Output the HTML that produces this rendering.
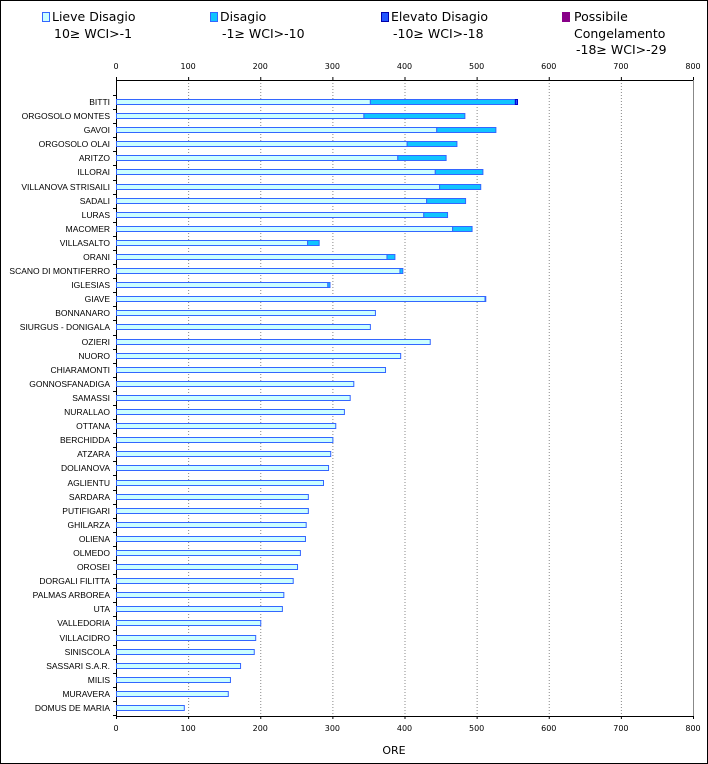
<!DOCTYPE html>
<html><head><meta charset="utf-8"><style>
body{margin:0;background:#fff;}
svg{display:block;font-family:"DejaVu Sans","Liberation Sans",sans-serif;}
</style></head><body>
<svg id="chart" width="708" height="764" xmlns="http://www.w3.org/2000/svg">
<rect x="0.5" y="0.5" width="707" height="763" fill="#fff" stroke="#000"/>
<g font-size="12.5" fill="#000">
 <g><rect x="42.5" y="12.5" width="7" height="9" fill="#ccffff" stroke="#3366ff"/><text x="52" y="21">Lieve Disagio</text><text x="54" y="38">10≥ WCI&gt;-1</text></g>
 <g><rect x="210.5" y="12.5" width="7" height="9" fill="#11c4ff" stroke="#3366ff"/><text x="220" y="21">Disagio</text><text x="222" y="38">-1≥ WCI&gt;-10</text></g>
 <g><rect x="381.5" y="12.5" width="7" height="9" fill="#2255ff" stroke="#0000aa"/><text x="391" y="21">Elevato Disagio</text><text x="393" y="38">-10≥ WCI&gt;-18</text></g>
 <g><rect x="562" y="12" width="8" height="10" fill="#880088"/><text x="574" y="21">Possibile</text><text x="574" y="38">Congelamento</text><text x="576" y="54">-18≥ WCI&gt;-29</text></g>
</g>
<g id="grid"></g><g id="axes"></g><g id="bars"></g><g id="labels"></g>
<text x="394" y="754" font-size="11" text-anchor="middle">ORE</text>
</svg>
<script>
const categories=["BITTI","ORGOSOLO MONTES","GAVOI","ORGOSOLO OLAI","ARITZO","ILLORAI","VILLANOVA STRISAILI","SADALI","LURAS","MACOMER","VILLASALTO","ORANI","SCANO DI MONTIFERRO","IGLESIAS","GIAVE","BONNANARO","SIURGUS - DONIGALA","OZIERI","NUORO","CHIARAMONTI","GONNOSFANADIGA","SAMASSI","NURALLAO","OTTANA","BERCHIDDA","ATZARA","DOLIANOVA","AGLIENTU","SARDARA","PUTIFIGARI","GHILARZA","OLIENA","OLMEDO","OROSEI","DORGALI FILITTA","PALMAS ARBOREA","UTA","VALLEDORIA","VILLACIDRO","SINISCOLA","SASSARI S.A.R.","MILIS","MURAVERA","DOMUS DE MARIA"];
const lieve=[352,343,444,403,390,442,448,430,426,466,265,375,393,293,511,359,352,435,394,373,329,324,316,304,300,297,294,287,266,266,263,262,255,251,245,232,230,200,193,191,172,158,155,94];
const disagio=[201,140,82,69,67,66,57,54,33,27,16,11,4,3,1,0,0,0,0,0,0,0,0,0,0,0,0,0,0,0,0,0,0,0,0,0,0,0,0,0,0,0,0,0];
const elevato=[3,0,0,0,0,0,0,0,0,0,0,0,0,0,0,0,0,0,0,0,0,0,0,0,0,0,0,0,0,0,0,0,0,0,0,0,0,0,0,0,0,0,0,0];
const ticks=[0,100,200,300,400,500,600,700,800];
const NS="http://www.w3.org/2000/svg";
const X0=116,X1=693,Y0=80,Y1=716,MAX=800;
const xs=v=>X0+v*(X1-X0)/MAX;
const rowY=i=>102+i*(708-102)/(categories.length-1);
function mk(tag,attrs,parent){const e=document.createElementNS(NS,tag);for(const k in attrs)e.setAttribute(k,attrs[k]);document.getElementById(parent).appendChild(e);return e;}
ticks.forEach(t=>{
 if(t>0&&t<MAX){const g=mk('line',{x1:xs(t)+.5,x2:xs(t)+.5,y1:Y0,y2:Y1,stroke:'#888','stroke-dasharray':'1,2'},'grid');
 
 }
 ['top','bottom'].forEach(p=>{
  const y=p==='top'?69:731;
  const tx=mk('text',{x:xs(t),y:y,'font-size':8,'text-anchor':'middle'},'axes');tx.textContent=t;
  
  
  const tk=mk('line',{x1:xs(t)+.5,x2:xs(t)+.5,y1:p==='top'?Y0-3:Y1,y2:p==='top'?Y0:Y1+3,stroke:'#000'},'axes');
  
  
 });
});
[['top',Y0],['bottom',Y1]].forEach(([n,y])=>{const l=mk('line',{x1:X0,x2:X1+1,y1:y+.5,y2:y+.5,stroke:'#000'},'axes');
 
 });
const la=mk('line',{x1:X0+.5,x2:X0+.5,y1:Y0,y2:Y1,stroke:'#000'},'axes');


const ra=mk('line',{x1:X1+.5,x2:X1+.5,y1:Y0,y2:Y1,stroke:'#888'},'axes');


const step=(708-102)/(categories.length-1);
for(let i=0;i<=categories.length;i++){const y=Math.round(102-step/2+i*step)+.5;
 const t=mk('line',{x1:X0-3,x2:X0,y1:y,y2:y,stroke:'#000'},'axes');
 
 }
categories.forEach((c,i)=>{
 const y=Math.round(rowY(i));
 const lb=mk('text',{x:110,y:y+3,'font-size':8.5,'font-family':'"Liberation Sans",sans-serif','text-anchor':'end'},'labels');lb.textContent=c;
 
 
 let acc=0;
 [[lieve,'#ccffff','#3366ff','lieve'],[disagio,'#11c4ff','#3366ff','disagio'],[elevato,'#2255ff','#0000cc','elevato']].forEach(([arr,f,s,n])=>{
  const v=arr[i];if(v<=0)return;
  const r=mk('rect',{x:xs(acc)+.5,y:y-2.5,width:xs(acc+v)-xs(acc),height:5,fill:f,stroke:s},'bars');
  
  
  acc+=v;
 });
});
</script>
</body></html>
